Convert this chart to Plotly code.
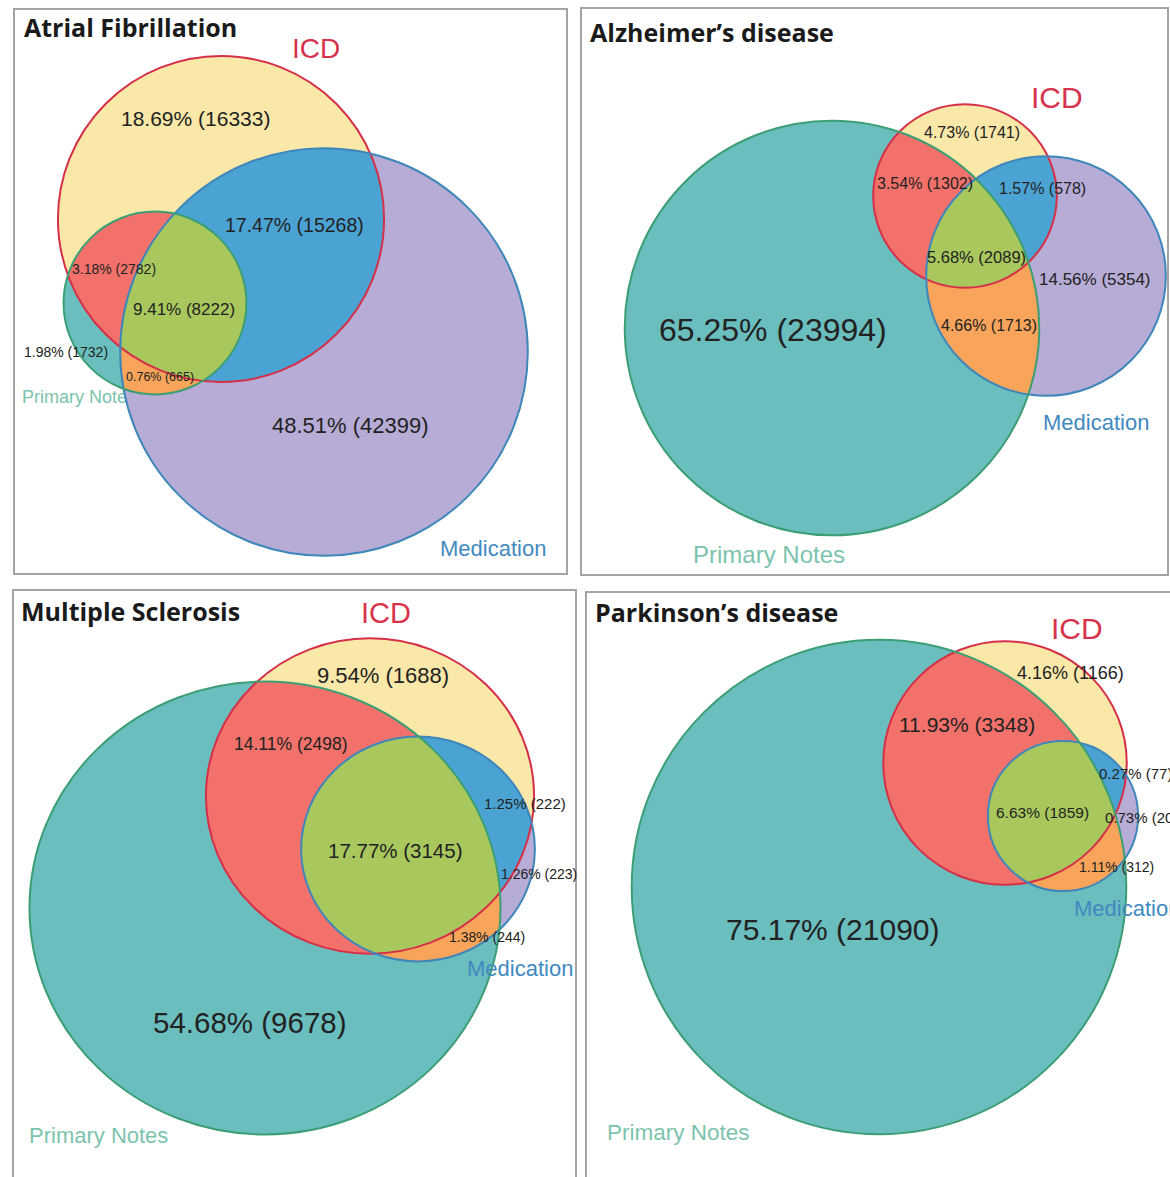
import numpy as np
import plotly.graph_objects as go

# ---------------------------------------------------------------------------
# Data: patient counts per Venn region.
# Region order: ICD only, Medication only, Primary Notes only,
#               ICD & Notes, ICD & Medication, Notes & Medication, all three
# ---------------------------------------------------------------------------
diseases = ["Atrial Fibrillation", "Alzheimer’s disease",
            "Multiple Sclerosis", "Parkinson’s disease"]
set_names = ["ICD", "Medication", "Primary Notes"]

af_counts = [16333, 42399, 1732, 2782, 15268, 665, 8222]
ad_counts = [1741, 5354, 23994, 1302, 578, 1713, 2089]
ms_counts = [1688, 223, 9678, 2498, 222, 244, 3145]
pd_counts = [1166, 205, 21090, 3348, 77, 312, 1859]

all_counts = [af_counts, ad_counts, ms_counts, pd_counts]

# ---------------------------------------------------------------------------
# Styling
# ---------------------------------------------------------------------------
W, H = 1170, 1177
region_colors = ["#f9e8a8", "#b6acd6", "#6abebe", "#f2726b",
                 "#4ba3d3", "#f8a55b", "#a8c85d"]
set_line_colors = ["#d62f48", "#3f86ba", "#3c9e74"]
set_label_colors = ["#d8334c", "#4189bf", "#7cc3ad"]
label_font = "Liberation Sans, Arial, sans-serif"
title_font = "Open Sans, Lato, sans-serif"

# Layout of each panel: frame, circle scale (px per sqrt(count)), horizontal
# stretch of the panel, circle centres (ICD, Medication, Notes), and text
# placements (left x, centre y, font size)
panels = [
    dict(box=(14, 9, 567, 574), scale=0.79, stretch=1.0,
         centers=[(221, 219), (324, 352), (155, 303)],
         title=(24, 27),
         labels=[(121, 118, 21), (272, 425, 22), (24, 352, 14), (72, 269, 14),
                 (225, 225, 19.5), (126, 377, 12.5), (133, 309, 17)],
         names=[(292, 48, 28), (440, 548, 22), (22, 398, 18)]),
    dict(box=(581, 8, 1168, 575), scale=1.215, stretch=1.0,
         centers=[(965, 196), (1046, 276), (832, 328)],
         title=(590, 32),
         labels=[(924, 132, 16), (1039, 279, 17), (659, 330, 32), (877, 183, 16),
                 (999, 188, 16), (941, 325, 16), (927, 257, 16.5)],
         names=[(1031, 97, 30), (1043, 422, 22), (693, 554, 24)]),
    dict(box=(13, 590, 576, 1190), scale=1.815, stretch=1.04,
         centers=[(370, 796), (418, 849), (265, 908)],
         title=(21, 611),
         labels=[(317, 675, 22), (501, 874, 14), (153, 1022, 29.5), (234, 744, 17.5),
                 (484, 803, 15), (449, 937, 14), (328, 850, 20.5)],
         names=[(361, 613, 29), (467, 968, 22), (29, 1135, 22)]),
    dict(box=(586, 592, 1180, 1190), scale=1.516, stretch=1.0,
         centers=[(1005, 763), (1063, 816), (879, 887)],
         title=(595, 612),
         labels=[(1017, 673, 18), (1105, 817, 15), (726, 929, 30), (899, 724, 21),
                 (1099, 773, 15), (1079, 867, 14), (996, 812, 15.5)],
         names=[(1051, 628, 30), (1074, 908, 22), (607, 1132, 22.5)]),
]

# membership code (bit0 ICD, bit1 Med, bit2 Notes) -> region index
code_to_region = {1: 0, 2: 1, 4: 2, 5: 3, 3: 4, 6: 5, 7: 6}

# discrete colour scale: value 0 is transparent (outside all circles)
step_colors = ["rgba(255,255,255,0)"] + [None] * 7
for code, reg in code_to_region.items():
    step_colors[code] = region_colors[reg]
colorscale = []
for i, c in enumerate(step_colors):
    colorscale.append([i / 8, c])
    colorscale.append([(i + 1) / 8, c])


def set_totals(counts):
    icd = counts[0] + counts[3] + counts[4] + counts[6]
    med = counts[1] + counts[4] + counts[5] + counts[6]
    notes = counts[2] + counts[3] + counts[5] + counts[6]
    return [icd, med, notes]


fig = go.Figure()
shapes = []
annotations = []

for disease, counts, p in zip(diseases, all_counts, panels):
    totals = set_totals(counts)
    s = p["stretch"]
    radii = [p["scale"] * np.sqrt(t) for t in totals]
    # (cx, cy, horizontal radius, vertical radius)
    circles = [(cx, cy, r * s, r) for (cx, cy), r in zip(p["centers"], radii)]

    # rasterise the three circles into region codes over their bounding box
    x0 = int(np.floor(min(cx - rx for cx, cy, rx, ry in circles))) - 1
    x1 = int(np.ceil(max(cx + rx for cx, cy, rx, ry in circles))) + 1
    y0 = int(np.floor(min(cy - ry for cx, cy, rx, ry in circles))) - 1
    y1 = int(np.ceil(max(cy + ry for cx, cy, rx, ry in circles))) + 1
    xs = np.arange(x0, x1) + 0.5
    ys = np.arange(y0, y1) + 0.5
    X, Y = np.meshgrid(xs, ys)
    code = np.zeros(X.shape, dtype=np.uint8)
    for bit, (cx, cy, rx, ry) in enumerate(circles):
        inside = ((X - cx) / rx) ** 2 + ((Y - cy) / ry) ** 2 <= 1.0
        code |= inside.astype(np.uint8) << bit

    fig.add_trace(go.Heatmap(
        z=code, x0=xs[0], dx=1, y0=ys[0], dy=1,
        colorscale=colorscale, zmin=-0.5, zmax=7.5, zsmooth=False,
        showscale=False, hoverinfo="skip", xaxis="x2", yaxis="y2"))

    # circle outlines
    for (cx, cy, rx, ry), lc in zip(circles, set_line_colors):
        shapes.append(dict(type="circle", xref="x2", yref="y2",
                           x0=cx - rx, x1=cx + rx, y0=cy - ry, y1=cy + ry,
                           line=dict(color=lc, width=2), layer="above"))

    # panel frame
    bx0, by0, bx1, by1 = p["box"]
    shapes.append(dict(type="rect", xref="x2", yref="y2",
                       x0=bx0, x1=bx1, y0=by0, y1=by1,
                       line=dict(color="#a4a4a4", width=2), layer="above"))

    # panel title
    tx, ty = p["title"]
    annotations.append(dict(x=tx, y=ty, xref="x", yref="y", text=f"<b>{disease}</b>",
                            xanchor="left", yanchor="middle", showarrow=False,
                            borderpad=0, borderwidth=0,
                            font=dict(family=title_font, size=25, color="#1a1a1a")))

    # region labels: percentage of all patients and count
    grand = sum(counts)
    for n, (lx, ly, fs) in zip(counts, p["labels"]):
        annotations.append(dict(x=lx, y=ly, xref="x", yref="y",
                                text=f"{100 * n / grand:.2f}% ({n})",
                                xanchor="left", yanchor="middle", showarrow=False,
                                borderpad=0, borderwidth=0,
                                font=dict(family=label_font, size=fs, color="#222222")))

    # set names
    for name, (nx, ny, fs), col in zip(set_names, p["names"], set_label_colors):
        if disease == "Atrial Fibrillation" and name == "Primary Notes":
            # this one sits beneath the circles
            fig.add_trace(go.Scatter(x=[nx], y=[ny], mode="text", text=[name],
                                     textposition="middle right", hoverinfo="skip",
                                     textfont=dict(family=label_font, size=fs, color=col),
                                     showlegend=False, xaxis="x", yaxis="y"))
            continue
        annotations.append(dict(x=nx, y=ny, xref="x", yref="y", text=name,
                                xanchor="left", yanchor="middle", showarrow=False,
                                borderpad=0, borderwidth=0,
                                font=dict(family=label_font, size=fs, color=col)))

axis_common = dict(range=[0, W], visible=False, showgrid=False, zeroline=False, fixedrange=True)
yaxis_common = dict(range=[H, 0], visible=False, showgrid=False, zeroline=False, fixedrange=True)

fig.update_layout(
    width=W, height=H, autosize=False,
    margin=dict(l=0, r=0, t=0, b=0, pad=0),
    paper_bgcolor="white", plot_bgcolor="white",
    showlegend=False,
    xaxis=dict(**axis_common),
    yaxis=dict(**yaxis_common),
    xaxis2=dict(**axis_common, overlaying="x"),
    yaxis2=dict(**yaxis_common, overlaying="y"),
    shapes=shapes, annotations=annotations,
)

fig.write_html("out.html")
